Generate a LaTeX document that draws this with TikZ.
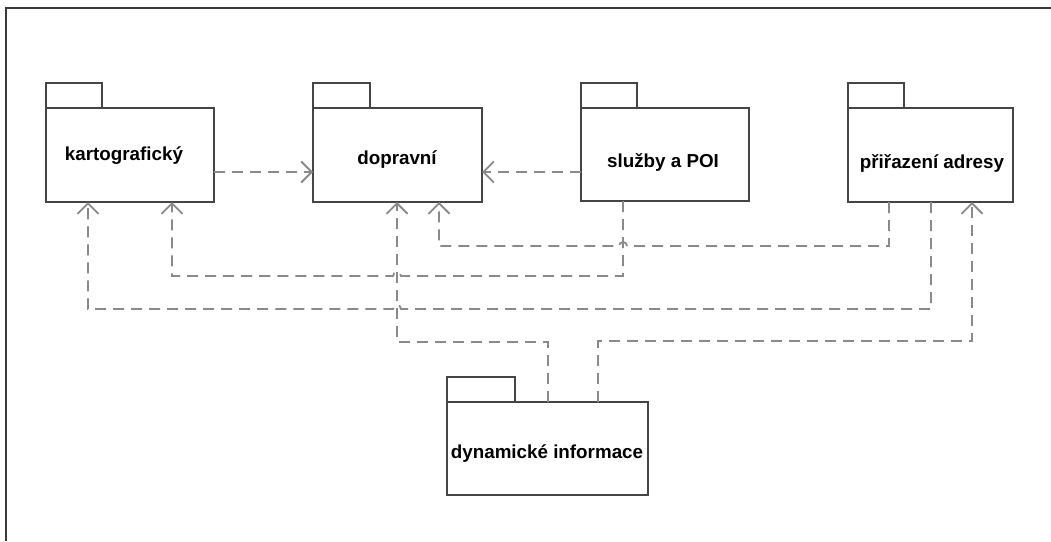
\documentclass[tikz,border=0pt]{standalone}
\usepackage{fontspec}
\setmainfont{Liberation Sans}
\usetikzlibrary{arrows.meta,calc}
\definecolor{boxcol}{HTML}{454545}
\definecolor{linecol}{HTML}{8A8A8A}
\definecolor{framecol}{HTML}{3A3A3A}
\tikzset{
  pkgpart/.style={draw=boxcol, fill=white, line width=1.4pt, inner sep=0pt, outer sep=0pt},
  lbl/.style={font=\fontsize{18.8}{22}\selectfont\bfseries, anchor=base, inner sep=0pt, text=black},
  dep/.style={draw=linecol, line width=1.8pt, dash pattern=on 11pt off 7pt,
    -{Straight Barb[length=10.5pt,width=21pt]}},
  hop/.style={start angle=0, end angle=180, radius=4pt}
}
\begin{document}
\begin{tikzpicture}[x=1pt,y=-1pt]
\useasboundingbox (0,0) rectangle (1051,541);
\fill[white] (0,0) rectangle (1051,541);
\draw[framecol, line width=2pt] (6,541) -- (6,8) -- (1051,8);

% package bodies
\node[pkgpart, minimum width=168pt, minimum height=94pt, anchor=north west] (kart) at (46,108) {};
\node[pkgpart, minimum width=56pt, minimum height=25pt, anchor=south west] (kartTab) at (kart.north west) {};
\node[pkgpart, minimum width=169pt, minimum height=94pt, anchor=north west] (dopr) at (313,108) {};
\node[pkgpart, minimum width=57pt, minimum height=25pt, anchor=south west] (doprTab) at (dopr.north west) {};
\node[pkgpart, minimum width=168pt, minimum height=93pt, anchor=north west] (sluz) at (581,108) {};
\node[pkgpart, minimum width=56pt, minimum height=25pt, anchor=south west] (sluzTab) at (sluz.north west) {};
\node[pkgpart, minimum width=165pt, minimum height=94pt, anchor=north west] (prir) at (848,108) {};
\node[pkgpart, minimum width=56pt, minimum height=25pt, anchor=south west] (prirTab) at (prir.north west) {};
\node[pkgpart, minimum width=201pt, minimum height=93pt, anchor=north west] (dyn) at (447,402) {};
\node[pkgpart, minimum width=68pt, minimum height=25pt, anchor=south west] (dynTab) at (dyn.north west) {};

% labels
\node[lbl] (kartL) at (124,160) {kartografický};
\node[lbl] (doprL) at (397,164) {dopravní};
\node[lbl] (sluzL) at (663,167.5) {služby a POI};
\node[lbl] (prirL) at (932,168.5) {přiřazení adresy};
\node[lbl] (dynL) at (547,458.5) {dynamické informace};

% dependencies
\draw[dep] (kart.east |- 0,172) -- (dopr.west |- 0,172);
\draw[dep] (sluz.west |- 0,172) -- (dopr.east |- 0,172);
\draw[dep] (sluz.south -| 623,0) -- (623,276) -- (401,276) arc[hop] -- (172,276) -- (kart.south -| 172,0);
\draw[dep] (prir.south -| 889,0) -- (889,246) -- (627,246) arc[hop] -- (439,246) -- (dopr.south -| 439,0);
\draw[dep] (prir.south -| 931,0) -- (931,309) -- (401,309) arc[hop] -- (88,309) -- (kart.south -| 88,0);
\draw[dep] (dyn.north -| 548,0) -- (548,342) -- (397,342) -- (dopr.south -| 397,0);
\draw[dep] (dyn.north -| 598,0) -- (598,341) -- (972,341) -- (prir.south -| 972,0);
\end{tikzpicture}
\end{document}
